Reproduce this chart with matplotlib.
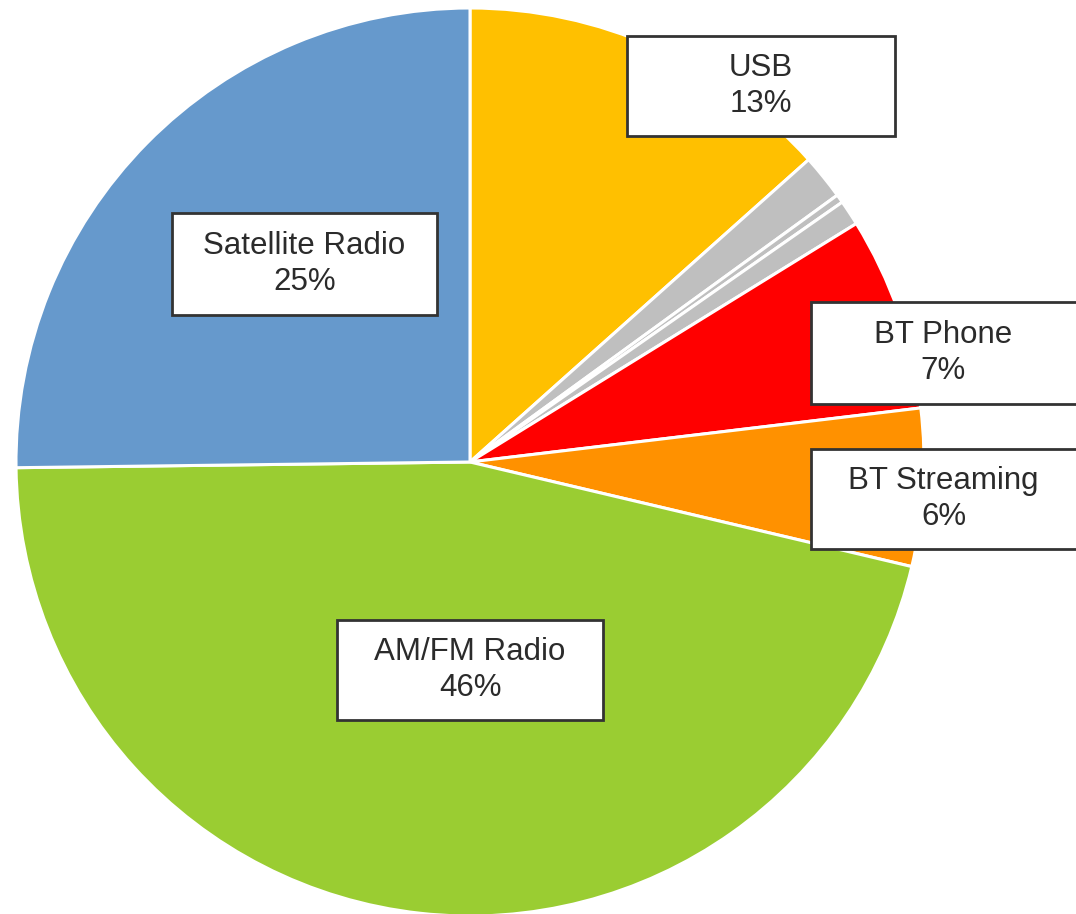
import matplotlib.pyplot as plt
from matplotlib.patches import Rectangle

plt.rcParams["font.family"] = ["Liberation Sans", "DejaVu Sans"]

# slice shares, clockwise from 12 o'clock
sources = ["USB", "Other 1", "Other 2", "Other 3", "BT Phone", "BT Streaming",
           "AM/FM Radio", "Satellite Radio"]
shares = [13.4, 1.6, 0.3, 0.9, 6.9, 5.6, 46.1, 25.2]
colors = ["#FFC000", "#BFBFBF", "#BFBFBF", "#BFBFBF", "#FF0000", "#FF9100",
          "#9ACD32", "#6699CC"]

label_names = ["USB", "BT Phone", "BT Streaming", "AM/FM Radio", "Satellite Radio"]
label_pcts = ["13%", "7%", "6%", "46%", "25%"]

# label boxes in pixel coords (left, top, right, bottom)
BOXES = {
    "USB": (627, 36, 895, 136),
    "BT Phone": (811, 302, 1085, 404),
    "BT Streaming": (811, 449, 1085, 549),
    "AM/FM Radio": (337, 620, 603, 720),
    "Satellite Radio": (172, 213, 437, 315),
}

W, H = 1076, 914
CX, CY, R = 470, 462, 454


def px(x, y):
    return (x - CX) / R, (CY - y) / R


fig = plt.figure(figsize=(W / 100, H / 100), dpi=100)
ax = fig.add_axes([0, 0, 1, 1])
ax.pie(shares, colors=colors, startangle=90, counterclock=False, radius=1.0,
       wedgeprops=dict(edgecolor="white", linewidth=2.2))
x0, y0 = px(0, H)
x1, y1 = px(W, 0)
ax.set_xlim(x0, x1)
ax.set_ylim(y0, y1)
ax.set_aspect("equal")
ax.axis("off")

for name, pct in zip(label_names, label_pcts):
    l, t, r, b = BOXES[name]
    bl = px(l, b)
    tr = px(r, t)
    ax.add_patch(Rectangle(bl, tr[0] - bl[0], tr[1] - bl[1], facecolor="white",
                           edgecolor="#333333", linewidth=2, zorder=3))
    cx, cy = px((l + min(r, W)) / 2, (t + b) / 2)
    ax.text(cx, cy, f"{name}\n{pct}", ha="center", va="center", fontsize=22.5,
            color="#2b2b2b", linespacing=1.26, zorder=4)

fig.savefig("out.png", dpi=100)
